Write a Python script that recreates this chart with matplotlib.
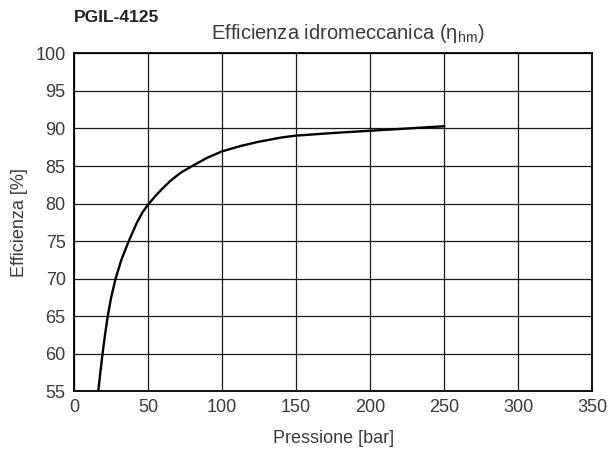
import matplotlib
matplotlib.use('Agg')
import matplotlib.pyplot as plt

plt.rcParams['font.family'] = ['Liberation Sans', 'DejaVu Sans']

# data
pressure = [16.4, 17.8, 19.3, 20.95, 22.8, 25.1, 28.1, 32.0, 37.0, 42.6, 46.5, 50,
            55, 59.5, 65, 72, 79.9, 90, 100, 112.2, 124, 140, 150, 175, 200, 225, 250]
efficiency = [55, 57.5, 60, 62.5, 65, 67.5, 70, 72.5, 75, 77.5, 78.9, 79.85,
              81.0, 81.95, 83.0, 84.1, 85.0, 86.1, 86.95, 87.65, 88.2, 88.8, 89.05,
              89.4, 89.7, 90.0, 90.3]

x_ticks = [0, 50, 100, 150, 200, 250, 300, 350]
y_ticks = [55, 60, 65, 70, 75, 80, 85, 90, 95, 100]

txt = '#3a3a3a'

fig = plt.figure(figsize=(6.09, 4.59), dpi=100)
ax = fig.add_axes([0.1215, 0.148, 0.851, 0.7355])

ax.plot(pressure, efficiency, color='black', lw=1.7, solid_joinstyle='round')

ax.set_xlim(0, 350)
ax.set_ylim(55, 100)
ax.set_xticks(x_ticks)
ax.set_yticks(y_ticks)
ax.grid(True, color='#1a1a1a', lw=0.9)
ax.tick_params(length=0, labelsize=13, labelcolor=txt, pad=6)
for s in ax.spines.values():
    s.set_color('black')
    s.set_linewidth(1.3)

ax.set_xlabel('Pressione [bar]', fontsize=13, color=txt, labelpad=10)
ax.set_ylabel('Efficienza [%]', fontsize=13, color=txt, labelpad=5)

fig.text(0.1215, 0.962, 'PGIL-4125', fontsize=12.5, fontweight='bold', color='#222222',
         ha='left', va='center')
fig.text(0.571, 0.927, r'Efficienza idromeccanica ($\mathregular{\eta_{hm}}$)', fontsize=14.5,
         color=txt, ha='center', va='center')

fig.savefig('out.png', dpi=100)
